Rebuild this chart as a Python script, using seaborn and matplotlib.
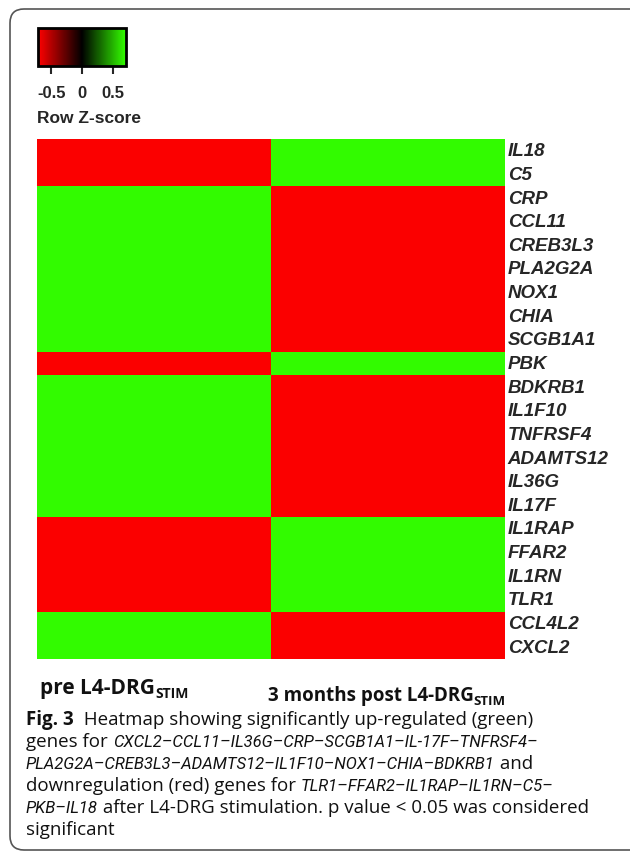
import numpy as np
import pandas as pd
import seaborn as sns
import matplotlib.pyplot as plt
from matplotlib.colors import LinearSegmentedColormap
from matplotlib.patches import FancyBboxPatch

genes = ['IL18', 'C5', 'CRP', 'CCL11', 'CREB3L3', 'PLA2G2A', 'NOX1', 'CHIA',
         'SCGB1A1', 'PBK', 'BDKRB1', 'IL1F10', 'TNFRSF4', 'ADAMTS12', 'IL36G',
         'IL17F', 'IL1RAP', 'FFAR2', 'IL1RN', 'TLR1', 'CCL4L2', 'CXCL2']
# row z-scores (two samples -> +/-0.707)
pre = [-0.707, -0.707, 0.707, 0.707, 0.707, 0.707, 0.707, 0.707, 0.707, -0.707,
       0.707, 0.707, 0.707, 0.707, 0.707, 0.707, -0.707, -0.707, -0.707, -0.707,
       0.707, 0.707]
post = [0.707, 0.707, -0.707, -0.707, -0.707, -0.707, -0.707, -0.707, -0.707, 0.707,
        -0.707, -0.707, -0.707, -0.707, -0.707, -0.707, 0.707, 0.707, 0.707, 0.707,
        -0.707, -0.707]
cbar_ticks = [-0.5, 0, 0.5]

df = pd.DataFrame({'pre': pre, 'post': post}, index=genes)

sns.set_style('white')
plt.rcParams['font.family'] = ['Liberation Sans', 'DejaVu Sans']

W, H = 630, 853
fig = plt.figure(figsize=(W / 100, H / 100), dpi=100)

def box(x0, y0, x1, y1):
    return [x0 / W, 1 - y1 / H, (x1 - x0) / W, (y1 - y0) / H]

# full-figure pixel axes for border and free text
bg = fig.add_axes([0, 0, 1, 1])
bg.set_xlim(0, W)
bg.set_ylim(H, 0)
bg.axis('off')
bg.add_patch(FancyBboxPatch((10, 10), 640, 841, boxstyle='round,pad=0,rounding_size=14',
                            fc='white', ec='#555555', lw=1.2))

ax = fig.add_axes(box(37, 140, 505, 660))
cax = fig.add_axes(box(38, 29, 126, 67))

cmap = LinearSegmentedColormap.from_list('rg', ['#FF0000', '#000000', '#33FF00'])
sns.heatmap(df, ax=ax, cmap=cmap, vmin=-0.72, vmax=0.72, cbar_ax=cax,
            cbar_kws={'orientation': 'horizontal', 'ticks': cbar_ticks},
            xticklabels=False, yticklabels=genes)

ax.yaxis.tick_right()
ax.tick_params(axis='y', length=0, pad=2)
for t in ax.get_yticklabels():
    t.set_rotation(0)
    t.set_fontsize(13.5)
    t.set_fontweight('bold')
    t.set_fontstyle('italic')
    t.set_va('center')
ax.set_ylabel('')

cb = ax.collections[0].colorbar
cb.outline.set_edgecolor('black')
cb.outline.set_linewidth(2)
cax.tick_params(axis='x', length=6, width=1.5, pad=8, labelsize=12)
cax.set_xticklabels(['-0.5', '0', '0.5'], fontweight='bold')
bg.text(37, 118, 'Row Z-score', fontsize=12.5, fontweight='bold', va='center', ha='left')

fig.canvas.draw()
renderer = fig.canvas.get_renderer()

sans = ['Open Sans', 'DejaVu Sans']
ital = ['Roboto', 'DejaVu Sans']   # narrower italic for gene names in the caption
ci = 12

def seg_line(x, y, parts):
    for txt, size, weight, style, dy in parts:
        fam = ital if style == 'italic' else sans
        if style == 'italic':
            size = ci
        t = bg.text(x, y + dy, txt, fontsize=size, fontweight=weight, fontstyle=style,
                    family=fam, va='baseline', ha='left', color='#111111')
        bb = t.get_window_extent(renderer)
        x += bb.width

seg_line(40, 694, [('pre L4-DRG', 15, 'bold', 'normal', 0),
                   ('STIM', 10, 'bold', 'normal', 4)])
seg_line(268, 701, [('3 months post L4-DRG', 13.5, 'bold', 'normal', 0),
                    ('STIM', 9.5, 'bold', 'normal', 4)])

cs = 13.5
lines = [
    [('Fig. 3', cs, 'bold', 'normal', 0), ('  Heatmap showing significantly up-regulated (green)', cs, 'normal', 'normal', 0)],
    [('genes for ', cs, 'normal', 'normal', 0), ('CXCL2\u2013CCL11\u2013IL36G\u2013CRP\u2013SCGB1A1\u2013IL-17F\u2013TNFRSF4\u2013', cs, 'normal', 'italic', 0)],
    [('PLA2G2A\u2013CREB3L3\u2013ADAMTS12\u2013IL1F10\u2013NOX1\u2013CHIA\u2013BDKRB1', cs, 'normal', 'italic', 0), (' and', cs, 'normal', 'normal', 0)],
    [('downregulation (red) genes for ', cs, 'normal', 'normal', 0), ('TLR1\u2013FFAR2\u2013IL1RAP\u2013IL1RN\u2013C5\u2013', cs, 'normal', 'italic', 0)],
    [('PKB\u2013IL18', cs, 'normal', 'italic', 0), (' after L4-DRG stimulation. p value < 0.05 was considered', cs, 'normal', 'normal', 0)],
    [('significant', cs, 'normal', 'normal', 0)],
]
for i, parts in enumerate(lines):
    seg_line(26, 725 + i * 22, parts)

fig.savefig('out.png', dpi=100)
